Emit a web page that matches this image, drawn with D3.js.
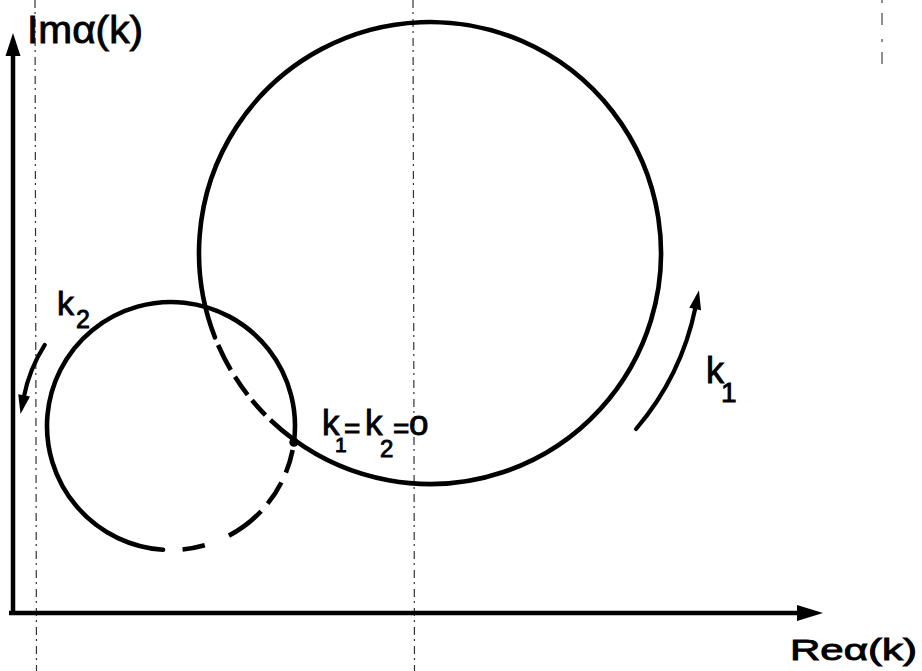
<!DOCTYPE html>
<html>
<head>
<meta charset="utf-8">
<script src="https://cdn.jsdelivr.net/npm/d3@7"></script>
<style>
  html, body { margin: 0; padding: 0; background: #fff; }
  svg { display: block; }
  text { font-family: "Liberation Sans", Arial, sans-serif; fill: #000; stroke: #000; stroke-width: 0.9; }
</style>
</head>
<body>
<svg id="chart" width="922" height="671"></svg>
<script>
// ---- Locus data (units on the Re / Im axes) ----
const curveNames   = ["k1", "k2"];
const centerRe     = [41.7, 15.8];
const centerIm     = [36.0, 18.7];
const curveRadius  = [23.1, 12.4];

// Arc extents in degrees, clockwise from east (screen orientation)
const bigSolidArc    = [158.6, 486];
const bigDashedArc   = [126, 158.6];
const smallSolidArc  = [93.7, 367.5];
const smallDashedArc = [7.5, 93.7];

// Direction-of-increasing-k arrows: [radius, start angle, end angle]
const k1Arrow = [27.1, 40.5, 11.5];
const k2Arrow = [15.0, 212.7, 191];

// Axis extents
const reDomain = [0, 81];
const imDomain = [0, 58];

// ---- Layout ----
const W = 922, H = 671;
const svg = d3.select("#chart");
svg.append("rect").attr("width", W).attr("height", H).attr("fill", "#fff");

const x = d3.scaleLinear().domain(reDomain).range([13, 823]);
const y = d3.scaleLinear().domain(imDomain).range([613, 33]);
const unit = x(1) - x(0);
const rad = d => d * Math.PI / 180;

// faint fold / construction lines of the sheet
const guideXs = [35, 413];
guideXs.forEach(gx => {
  svg.append("line")
    .attr("x1", gx).attr("x2", gx + 1.5).attr("y1", 0).attr("y2", H)
    .attr("stroke", "#333").attr("stroke-width", 1.2)
    .attr("stroke-dasharray", "8 4 2 5");
});
svg.append("line")
  .attr("x1", 882).attr("x2", 882).attr("y1", 0).attr("y2", 72)
  .attr("stroke", "#444").attr("stroke-width", 1.2)
  .attr("stroke-dasharray", "3 10 12 14");

// ---- Axes with arrowheads ----
const g = svg.append("g").attr("stroke", "#000").attr("fill", "none");
g.append("line")
  .attr("x1", x(0)).attr("x2", x(0))
  .attr("y1", y(0) + 2).attr("y2", y(imDomain[1]) + 20)
  .attr("stroke-width", 4.5);
g.append("line")
  .attr("x1", x(0) - 4).attr("x2", x(reDomain[1]) - 20)
  .attr("y1", y(0)).attr("y2", y(0))
  .attr("stroke-width", 4.5);

function head(tipX, tipY, dx, dy, len, half) {
  const bx = tipX - dx * len, by = tipY - dy * len;
  const nx = -dy, ny = dx;
  return `M${tipX},${tipY}L${bx + nx * half},${by + ny * half}L${bx - nx * half},${by - ny * half}Z`;
}
svg.append("path").attr("d", head(x(0), y(imDomain[1]), 0, -1, 23, 7.5)).attr("fill", "#000");
svg.append("path").attr("d", head(x(reDomain[1]), y(0), 1, 0, 26, 8)).attr("fill", "#000");

// ---- Circular loci ----
function arcD(cx, cy, r, a0, a1, ccw) {
  const p = d3.path();
  p.arc(cx, cy, r, rad(a0), rad(a1), ccw);
  return p.toString();
}
const cx = centerRe.map(v => x(v));
const cy = centerIm.map(v => y(v));
const cr = curveRadius.map(v => v * unit);

const loci = svg.append("g").attr("fill", "none").attr("stroke", "#000")
  .attr("stroke-width", 4.6).attr("stroke-linecap", "round");

// k1 locus (large circle)
loci.append("path").attr("d", arcD(cx[0], cy[0], cr[0], bigSolidArc[0], bigSolidArc[1], false));
loci.append("path").attr("d", arcD(cx[0], cy[0], cr[0], bigDashedArc[0], bigDashedArc[1], false))
  .attr("stroke-linecap", "butt")
  .attr("stroke-dasharray", "31 7 20 7 22 8 28 12");

// k2 locus (small circle)
loci.append("path").attr("d", arcD(cx[1], cy[1], cr[1], smallSolidArc[0], smallSolidArc[1], false));
loci.append("path").attr("d", arcD(cx[1], cy[1], cr[1], smallDashedArc[0], smallDashedArc[1], false))
  .attr("stroke-linecap", "butt")
  .attr("stroke-dasharray", "0 8 23.6 10.8 25.3 10 40.5 26 22.6 40");

// common point k1 = k2 = 0
const jx = cx[1] + cr[1] * Math.cos(rad(smallDashedArc[0]));
const jy = cy[1] + cr[1] * Math.sin(rad(smallDashedArc[0]));
svg.append("circle").attr("cx", jx).attr("cy", jy).attr("r", 4.6).attr("fill", "#000");

// ---- Direction arrows ----
function curvedArrow(ccx, ccy, spec) {
  const [r, a0, a1] = spec;
  const rp = r * unit;
  svg.append("path").attr("d", arcD(ccx, ccy, rp, a0, a1, true))
    .attr("fill", "none").attr("stroke", "#000").attr("stroke-width", 4.2)
    .attr("stroke-linecap", "round");
  const ex = ccx + rp * Math.cos(rad(a1)), ey = ccy + rp * Math.sin(rad(a1));
  const tx = Math.sin(rad(a1)), ty = -Math.cos(rad(a1));
  const len = 17;
  svg.append("path").attr("d", head(ex + tx * len, ey + ty * len, tx, ty, len + 2, 6)).attr("fill", "#000");
}
curvedArrow(cx[0], cy[0], k1Arrow);
curvedArrow(cx[1], cy[1], k2Arrow);

// ---- Labels ----
function label(txt, px, py, size, opts = {}) {
  const t = svg.append("text").attr("x", px).attr("y", py)
    .attr("font-size", size).text(txt);
  if (opts.len) t.attr("textLength", opts.len).attr("lengthAdjust", "spacingAndGlyphs");
  return t;
}
label("Im\u03B1(k)", 27, 43, 39, { len: 116 });
label("Re\u03B1(k)", 790, 660, 29, { len: 127 });

// subscripted symbols: one text element per label, pieces as tspans
function subLabel(parts, px, py) {
  const t = svg.append("text").attr("x", px).attr("y", py);
  parts.forEach(p => {
    t.append("tspan").attr("x", p.x).attr("y", p.y)
      .attr("font-size", p.size)
      .attr("letter-spacing", p.ls || 0)
      .text(p.s);
  });
  return t;
}
subLabel([{ s: "k", x: 57, y: 315, size: 34 }, { s: "2", x: 76, y: 328, size: 25 }]);
subLabel([{ s: "k", x: 706, y: 383, size: 36, ls: -3 }, { s: "1", x: 721, y: 402, size: 28 }]);
subLabel([
  { s: "k", x: 322, y: 435, size: 35, ls: -3.5 },
  { s: "1", x: 335, y: 452, size: 21, ls: -3 },
  { s: "=", x: 344, y: 438, size: 28, ls: -1 },
  { s: "k", x: 365, y: 435, size: 35, ls: -3.5 },
  { s: "2", x: 380, y: 457, size: 24, ls: -1 },
  { s: "=", x: 393, y: 438, size: 28, ls: -1 },
  { s: "o", x: 409, y: 435, size: 35 }
]);
</script>
</body>
</html>
